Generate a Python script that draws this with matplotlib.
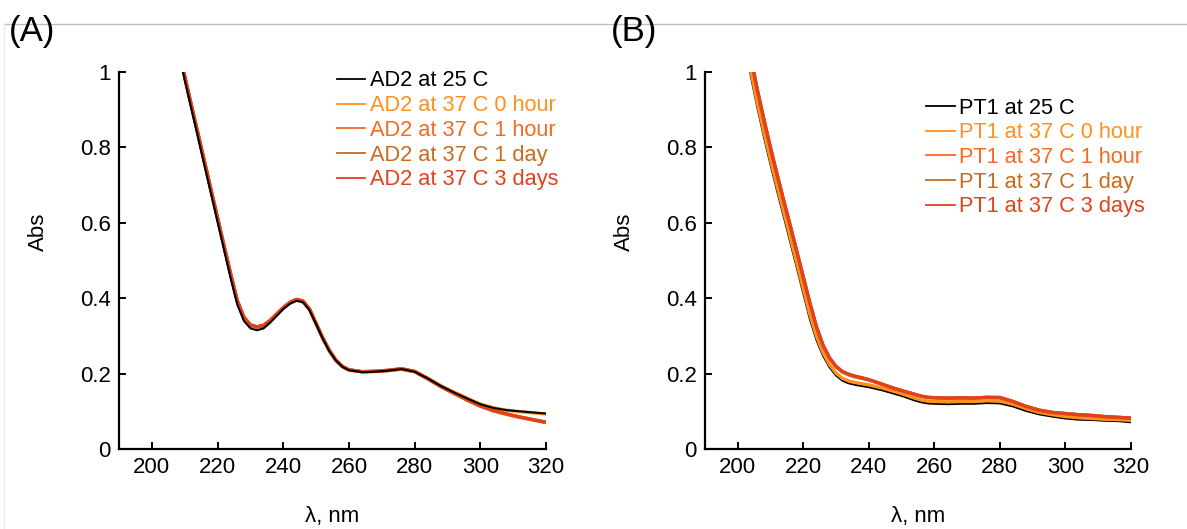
import matplotlib
matplotlib.use("Agg")
import matplotlib.pyplot as plt
from matplotlib.lines import Line2D

plt.rcParams["font.family"] = ["Liberation Sans", "DejaVu Sans"]

# wavelengths (nm) for panel A
wl_a = [208, 210, 212, 214, 216, 218, 220, 222, 224, 226, 228, 230, 232, 234,
        236, 238, 240, 242, 244, 246, 248, 250, 252, 254, 256, 258, 260,
        264, 268, 272, 276, 280, 284, 288, 292, 296, 300, 304, 308, 312, 316, 320]

ad2_25c = [1.06, 0.978, 0.903, 0.828, 0.752, 0.677, 0.602, 0.527, 0.452, 0.383, 0.340,
           0.320, 0.315, 0.320, 0.335, 0.353, 0.371, 0.385, 0.393, 0.389, 0.368, 0.331,
           0.293, 0.260, 0.235, 0.218, 0.209,
           0.204, 0.205, 0.208, 0.212, 0.205, 0.187, 0.167, 0.150, 0.134, 0.119, 0.109,
           0.103, 0.100, 0.097, 0.094]
ad2_37c_0h = [1.07, 0.988, 0.912, 0.837, 0.761, 0.686, 0.611, 0.537, 0.463, 0.393, 0.349,
              0.328, 0.323, 0.327, 0.340, 0.357, 0.374, 0.388, 0.396, 0.392, 0.371, 0.333,
              0.295, 0.262, 0.236, 0.219, 0.210,
              0.205, 0.206, 0.209, 0.213, 0.206, 0.188, 0.168, 0.151, 0.135, 0.119, 0.109,
              0.103, 0.099, 0.096, 0.093]
ad2_37c_1h = [1.07, 0.987, 0.911, 0.836, 0.761, 0.686, 0.611, 0.536, 0.462, 0.392, 0.349,
              0.328, 0.324, 0.328, 0.341, 0.358, 0.375, 0.389, 0.397, 0.393, 0.371, 0.332,
              0.295, 0.261, 0.236, 0.219, 0.210,
              0.205, 0.206, 0.208, 0.212, 0.205, 0.186, 0.166, 0.148, 0.130, 0.114, 0.102,
              0.093, 0.085, 0.078, 0.071]
ad2_37c_1d = [1.07, 0.988, 0.912, 0.837, 0.762, 0.687, 0.612, 0.537, 0.463, 0.393, 0.350,
              0.329, 0.324, 0.328, 0.341, 0.358, 0.375, 0.388, 0.396, 0.392, 0.370, 0.332,
              0.294, 0.261, 0.235, 0.218, 0.210,
              0.205, 0.206, 0.208, 0.212, 0.205, 0.186, 0.165, 0.147, 0.130, 0.114, 0.101,
              0.092, 0.084, 0.077, 0.070]
ad2_37c_3d = [1.07, 0.988, 0.912, 0.838, 0.763, 0.688, 0.613, 0.538, 0.464, 0.394, 0.350,
              0.329, 0.324, 0.328, 0.341, 0.358, 0.375, 0.389, 0.397, 0.392, 0.371, 0.333,
              0.295, 0.262, 0.236, 0.219, 0.210,
              0.205, 0.206, 0.209, 0.213, 0.206, 0.187, 0.166, 0.148, 0.130, 0.114, 0.102,
              0.093, 0.085, 0.078, 0.071]

# wavelengths (nm) for panel B
wl_b = [202, 204, 206, 208, 210, 212, 214, 216, 218, 220, 222, 224, 226, 228, 230,
        232, 234, 236, 238, 240, 242, 244, 246, 248, 250, 252, 254, 256, 258, 260,
        264, 268, 272, 276, 280, 284, 288, 292, 296, 300, 304, 308, 312, 316, 320]

pt1_25c = [1.09, 0.99, 0.905, 0.828, 0.755, 0.685, 0.618, 0.550, 0.482, 0.413, 0.345,
           0.290, 0.248, 0.217, 0.195, 0.181, 0.174, 0.170, 0.167, 0.164, 0.160, 0.156,
           0.151, 0.146, 0.141, 0.135, 0.129, 0.124, 0.121, 0.120,
           0.119, 0.120, 0.120, 0.122, 0.121, 0.113, 0.101, 0.092, 0.086, 0.081, 0.078,
           0.077, 0.075, 0.074, 0.071]
pt1_37c_0h = [1.10, 1.003, 0.917, 0.840, 0.767, 0.697, 0.630, 0.562, 0.494, 0.425, 0.357,
              0.300, 0.256, 0.224, 0.201, 0.187, 0.180, 0.176, 0.173, 0.170, 0.166, 0.162,
              0.157, 0.152, 0.147, 0.141, 0.135, 0.130, 0.127, 0.126,
              0.125, 0.126, 0.126, 0.128, 0.127, 0.119, 0.107, 0.097, 0.091, 0.086, 0.083,
              0.081, 0.079, 0.078, 0.076]
pt1_37c_1h = [1.13, 1.036, 0.950, 0.872, 0.798, 0.727, 0.659, 0.592, 0.524, 0.455, 0.387,
              0.324, 0.275, 0.241, 0.218, 0.204, 0.196, 0.191, 0.187, 0.183, 0.178, 0.172,
              0.166, 0.160, 0.155, 0.150, 0.145, 0.140, 0.137, 0.136,
              0.134, 0.135, 0.135, 0.137, 0.136, 0.126, 0.113, 0.103, 0.097, 0.094, 0.091,
              0.089, 0.086, 0.084, 0.082]
pt1_37c_1d = [1.13, 1.038, 0.952, 0.873, 0.799, 0.728, 0.660, 0.593, 0.525, 0.456, 0.388,
              0.325, 0.276, 0.242, 0.219, 0.205, 0.197, 0.192, 0.188, 0.184, 0.178, 0.172,
              0.166, 0.160, 0.155, 0.150, 0.145, 0.140, 0.137, 0.136,
              0.135, 0.135, 0.135, 0.137, 0.136, 0.126, 0.113, 0.103, 0.097, 0.094, 0.091,
              0.089, 0.086, 0.084, 0.082]
pt1_37c_3d = [1.13, 1.038, 0.952, 0.873, 0.799, 0.728, 0.660, 0.593, 0.525, 0.456, 0.388,
              0.325, 0.276, 0.242, 0.219, 0.205, 0.198, 0.193, 0.189, 0.184, 0.178, 0.172,
              0.166, 0.160, 0.155, 0.150, 0.145, 0.140, 0.137, 0.136,
              0.135, 0.136, 0.135, 0.137, 0.137, 0.126, 0.113, 0.103, 0.097, 0.094, 0.091,
              0.089, 0.086, 0.084, 0.082]

conditions = ["at 25 C", "at 37 C 0 hour", "at 37 C 1 hour", "at 37 C 1 day", "at 37 C 3 days"]
colors = ["#000000", "#FF8F1F", "#F46A1F", "#C96A1C", "#E2421B"]
widths = [1.5, 2.4, 2.4, 2.4, 2.4]

x_ticks = [200, 220, 240, 260, 280, 300, 320]
y_ticks = [0, 0.2, 0.4, 0.6, 0.8, 1]
y_ticklabels = ["0", "0.2", "0.4", "0.6", "0.8", "1"]


def draw_panel(ax, wl, series, sample, order, legend_anchor):
    handles = [None] * len(series)
    for i in order:
        (line,) = ax.plot(wl, series[i], color=colors[i], lw=widths[i],
                          label=f"{sample} {conditions[i]}", solid_joinstyle="round")
        handles[i] = line
    ax.set_xlim(190, 320)
    ax.set_ylim(0, 1)
    ax.set_xticks(x_ticks)
    ax.set_yticks(y_ticks)
    ax.set_yticklabels(y_ticklabels)
    ax.tick_params(direction="in", length=5, width=1.4, labelsize=16, pad=6)
    for side in ["top", "right"]:
        ax.spines[side].set_visible(False)
    for side in ["left", "bottom"]:
        ax.spines[side].set_linewidth(1.6)
    ax.set_xlabel("λ, nm", fontsize=16, labelpad=20)
    ax.set_ylabel("Abs", fontsize=16)
    ax.yaxis.set_label_coords(-0.165, 0.575)
    leg = ax.legend(handles=handles, loc="upper left", bbox_to_anchor=legend_anchor,
                    frameon=False, fontsize=15.7, handlelength=1.3, handletextpad=0.2,
                    labelspacing=0.17, borderaxespad=0, borderpad=0, labelcolor="linecolor")
    for h in leg.legend_handles:
        h.set_linewidth(1.3)


fig = plt.figure(figsize=(11.87, 5.29), dpi=100)
ax_a = fig.add_axes([0.1003, 0.1512, 0.3597, 0.7127])
ax_b = fig.add_axes([0.5939, 0.1512, 0.3589, 0.7127])

draw_panel(ax_a, wl_a, [ad2_25c, ad2_37c_0h, ad2_37c_1h, ad2_37c_1d, ad2_37c_3d],
           "AD2", [1, 2, 3, 4, 0], (0.51, 1.004))
draw_panel(ax_b, wl_b, [pt1_25c, pt1_37c_0h, pt1_37c_1h, pt1_37c_1d, pt1_37c_3d],
           "PT1", [0, 1, 2, 3, 4], (0.52, 0.932))

# thin gray frame line at the top, as in the source figure
fig.add_artist(Line2D([4 / 1187, 1], [1 - 24 / 529] * 2, color="#bdbdbd", lw=1))
fig.add_artist(Line2D([4 / 1187, 4 / 1187], [0, 1 - 24 / 529], color="#ececec", lw=1))

fig.text(9 / 1187, 1 - 31 / 529, "(A)", fontsize=25, va="center", ha="left")
fig.text(611 / 1187, 1 - 31 / 529, "(B)", fontsize=25, va="center", ha="left")

fig.savefig("out.png", dpi=100)
